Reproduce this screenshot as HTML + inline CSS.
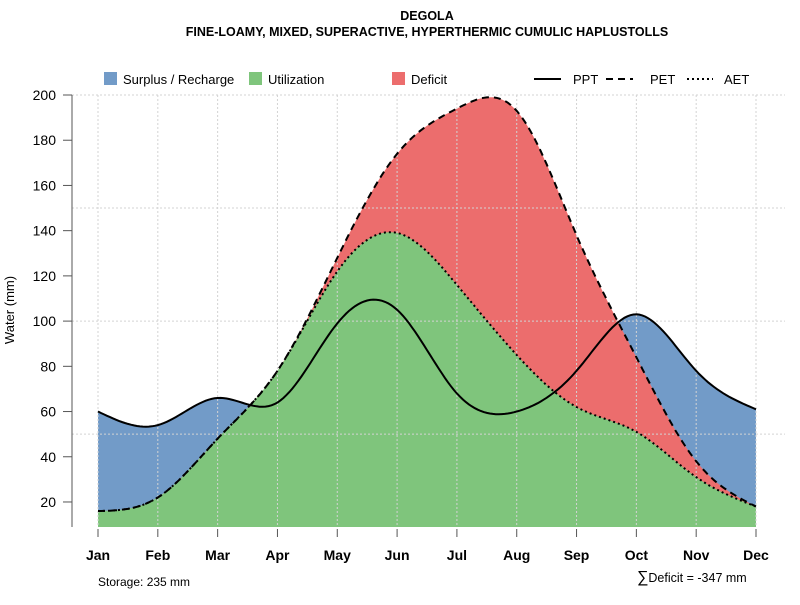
<!DOCTYPE html>
<html><head><meta charset="utf-8"><style>
body{margin:0;background:#fff;font-family:"Liberation Sans",sans-serif}
svg text{font-family:"Liberation Sans",sans-serif}
</style></head><body>
<svg id="c" width="800" height="600" viewBox="0 0 800 600">
<text x="427" y="20" text-anchor="middle" font-size="12.5" font-weight="bold">DEGOLA</text>
<text x="427" y="36" text-anchor="middle" font-size="12.5" font-weight="bold">FINE-LOAMY, MIXED, SUPERACTIVE, HYPERTHERMIC CUMULIC HAPLUSTOLLS</text>
<g id="plot"></g>
<g font-size="13">
<rect x="104" y="72" width="13" height="13" fill="#729bc8"/>
<text x="123" y="84">Surplus / Recharge</text>
<rect x="249" y="72" width="13" height="13" fill="#7fc57c"/>
<text x="268" y="84">Utilization</text>
<rect x="392" y="72" width="13" height="13" fill="#ec6d6d"/>
<text x="411" y="84">Deficit</text>
<line x1="534" y1="79" x2="561" y2="79" stroke="#000" stroke-width="2"/>
<text x="573" y="84">PPT</text>
<line x1="606" y1="79" x2="633" y2="79" stroke="#000" stroke-width="2" stroke-dasharray="7,5"/>
<text x="650" y="84">PET</text>
<line x1="687" y1="79" x2="713" y2="79" stroke="#000" stroke-width="2" stroke-dasharray="2,3"/>
<text x="724" y="84">AET</text>
</g>
<text x="98" y="586" font-size="12">Storage: 235 mm</text>
<text x="637" y="582" font-size="12.5"><tspan font-size="16">∑</tspan>Deficit = -347 mm</text>
</svg>
<script>
const months=["Jan","Feb","Mar","Apr","May","Jun","Jul","Aug","Sep","Oct","Nov","Dec"];
const ppt=[60,54,66,64,99,105,68,60,78,103,78,61];
const pet=[16,22,48,78,128,174,194,193,138,84,38,18];
const aet=[16,22,48,78,122,139,116,85,62,51,31,18];
const yTicks=[20,40,60,80,100,120,140,160,180,200];
const yGrid=[50,100,150,200];
const NS="http://www.w3.org/2000/svg";
const g=document.getElementById('plot');
const X=i=>98+i*(756-98)/11;
const Y=v=>547.2-v*2.261;
const base=527;
function mk(t,a){const e=document.createElementNS(NS,t);for(const k in a)e.setAttribute(k,a[k]);g.appendChild(e);return e;}
function spline(ys){const n=ys.length;const a=new Array(n).fill(0),b=new Array(n).fill(0),c=new Array(n).fill(0),d=new Array(n).fill(0);
for(let i=1;i<n-1;i++){a[i]=1;b[i]=4;c[i]=1;d[i]=6*(ys[i+1]-2*ys[i]+ys[i-1]);}b[0]=1;b[n-1]=1;
for(let i=1;i<n;i++){const m=a[i]/b[i-1];b[i]-=m*c[i-1];d[i]-=m*d[i-1];}
const M=new Array(n).fill(0);M[n-1]=d[n-1]/b[n-1];for(let i=n-2;i>=0;i--)M[i]=(d[i]-c[i]*M[i+1])/b[i];
const pts=[];for(let i=0;i<n-1;i++){for(let s=0;s<20;s++){const t=s/20;const v=(1-t)*ys[i]+t*ys[i+1]+((Math.pow(1-t,3)-(1-t))*M[i]+(t*t*t-t)*M[i+1])/6;pts.push([X(i+t),Y(v)]);}}
pts.push([X(n-1),Y(ys[n-1])]);return pts;}
const P=spline(ppt),E=spline(pet),A=spline(aet);
const line=p=>p.map((q,i)=>(i?'L':'M')+q[0].toFixed(1)+','+q[1].toFixed(1)).join('');
const area=p=>line(p)+`L${X(11)},${base}L${X(0)},${base}Z`;
let e;
e=mk('path',{d:area(P),fill:'#729bc8'});


e=mk('path',{d:area(E),fill:'#ec6d6d'});


e=mk('path',{d:area(A),fill:'#7fc57c'});


yGrid.forEach(v=>{e=mk('line',{x1:72,x2:785,y1:Y(v),y2:Y(v),stroke:'#d3d3d3','stroke-dasharray':'2,2'});

});
months.forEach((m,i)=>{e=mk('line',{x1:X(i),x2:X(i),y1:Y(200),y2:base,stroke:'#d3d3d3','stroke-dasharray':'2,2'});


e=mk('line',{x1:X(i),x2:X(i),y1:529,y2:537,stroke:'#555'});


e=mk('text',{x:X(i),y:560,'text-anchor':'middle','font-size':14,'font-weight':'bold'});e.textContent=m;

});
e=mk('line',{x1:72,x2:72,y1:Y(200),y2:527,stroke:'#555'});


yTicks.forEach(v=>{e=mk('line',{x1:63,x2:72,y1:Y(v),y2:Y(v),stroke:'#555'});


e=mk('text',{x:56,y:Y(v)+5,'text-anchor':'end','font-size':14});e.textContent=v;

});
e=mk('text',{x:14,y:310,'text-anchor':'middle','font-size':13,transform:'rotate(-90 14 310)'});e.textContent='Water (mm)';


e=mk('path',{d:line(A),fill:'none',stroke:'#000','stroke-width':2,'stroke-dasharray':'2,3'});


e=mk('path',{d:line(E),fill:'none',stroke:'#000','stroke-width':2,'stroke-dasharray':'7,5'});


e=mk('path',{d:line(P),fill:'none',stroke:'#000','stroke-width':2});


</script>
</body></html>
